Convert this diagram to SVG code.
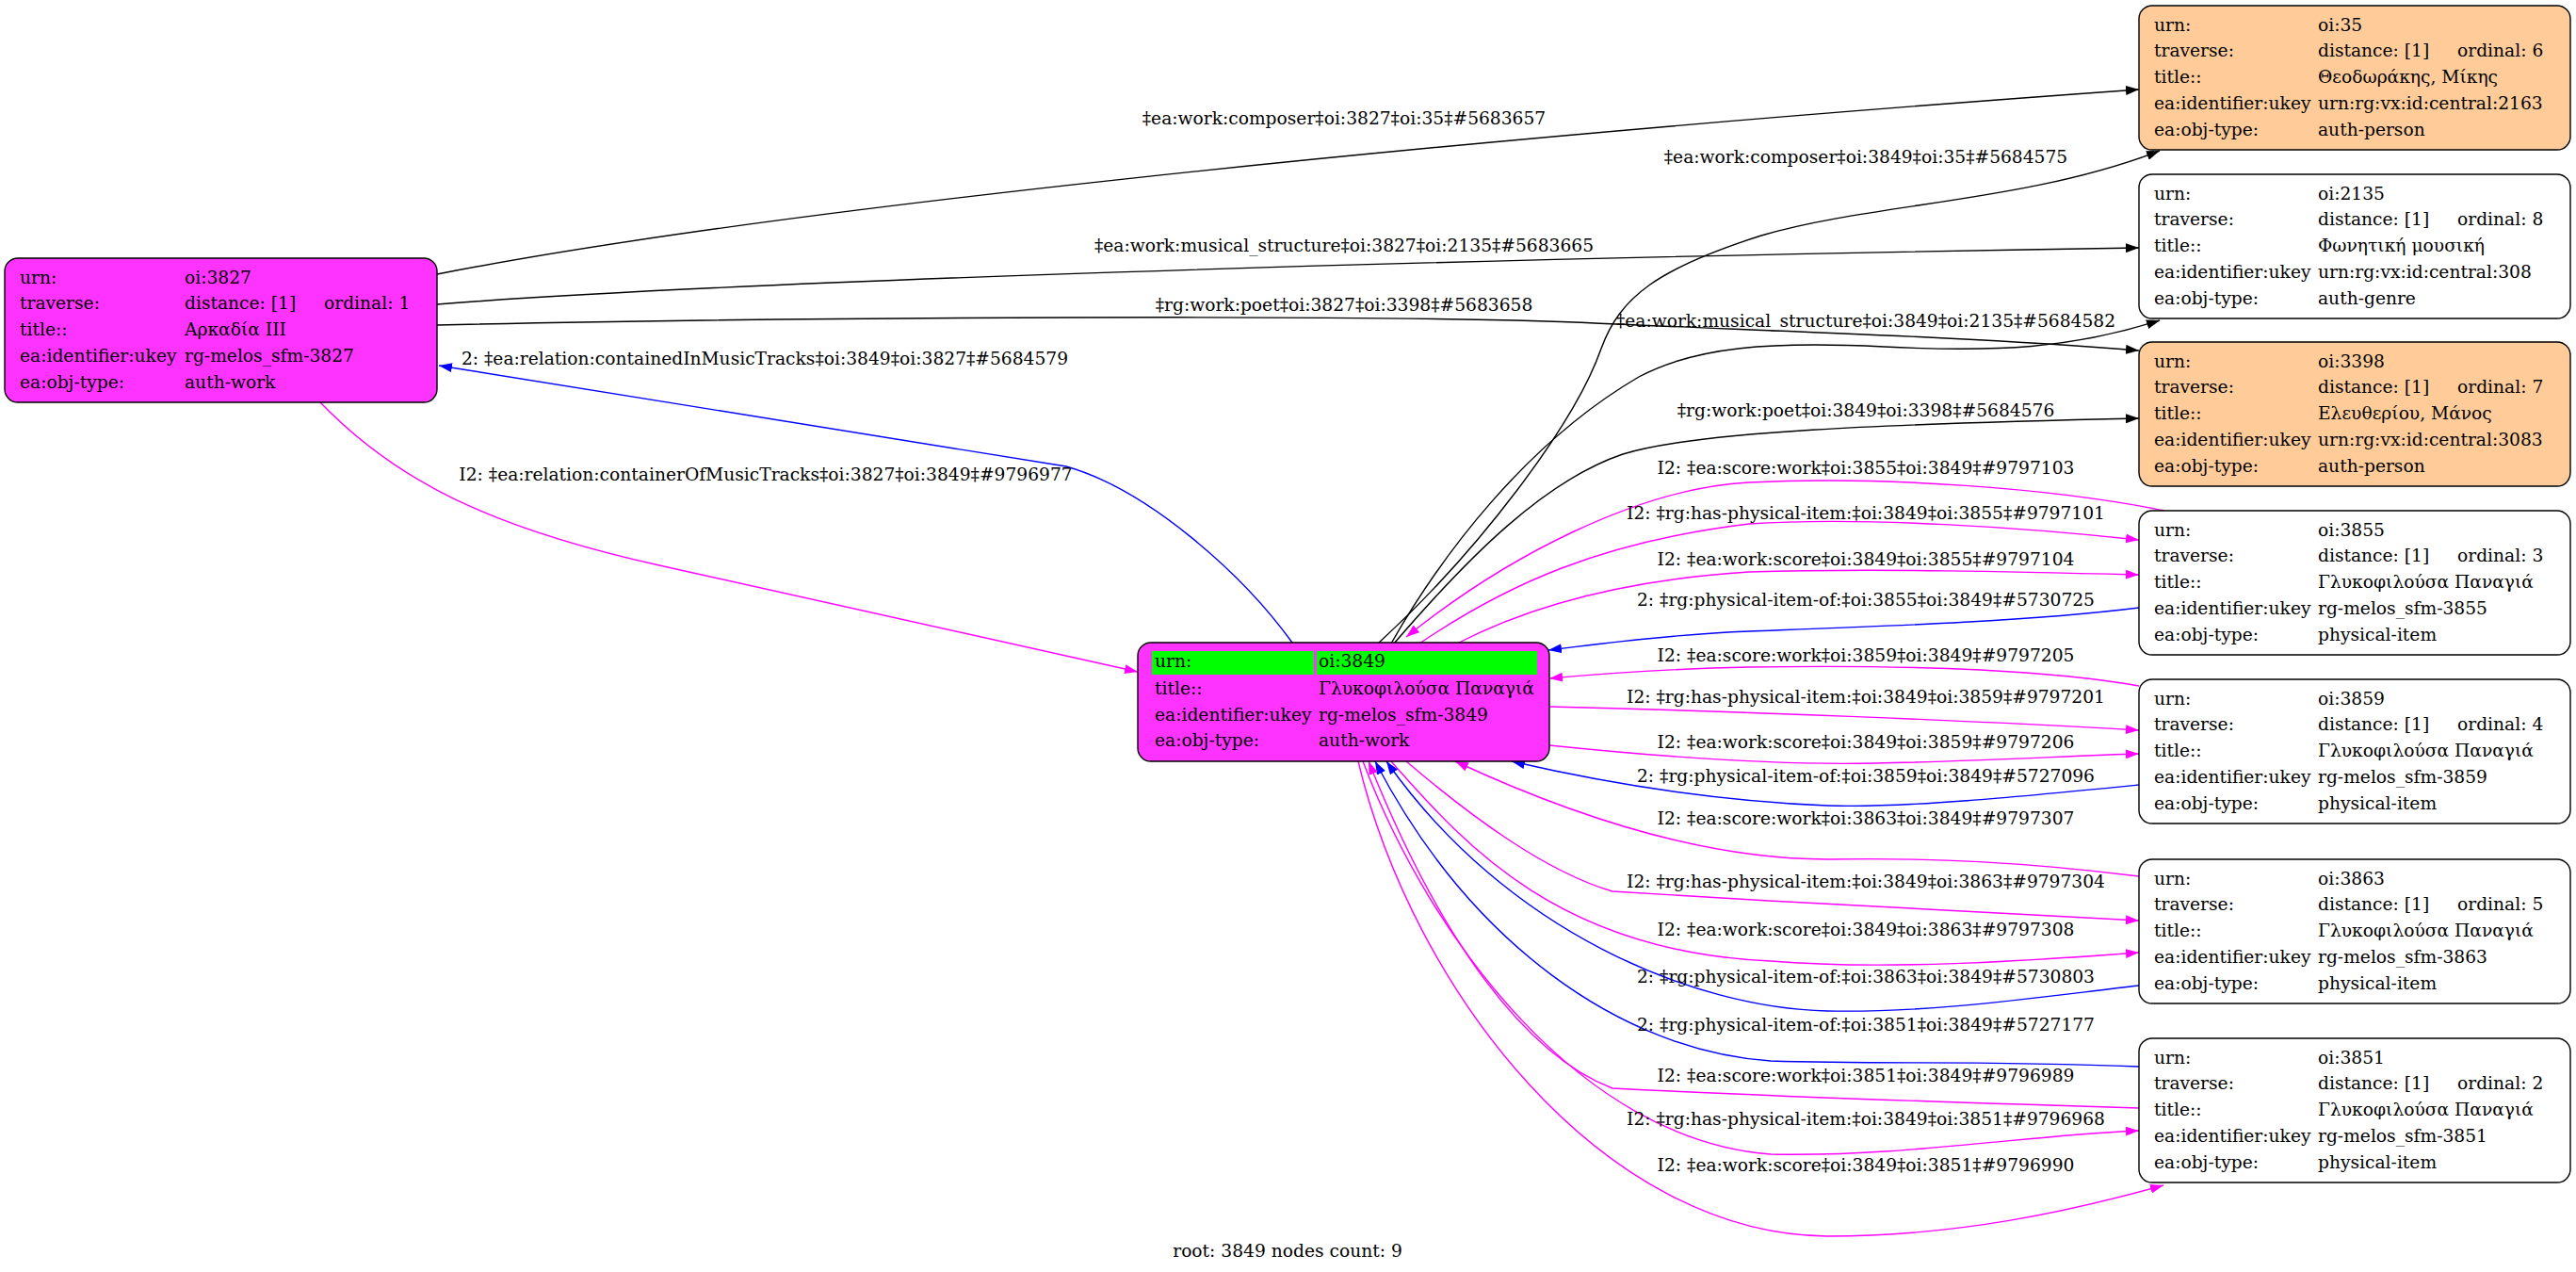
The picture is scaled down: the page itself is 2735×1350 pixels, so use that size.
<svg xmlns="http://www.w3.org/2000/svg" width="2735" height="1350" viewBox="0 0 2735 1350">
<style>
text{font-family:"DejaVu Serif","Liberation Serif",serif;font-size:18.67px;fill:#000}
.lbl{text-anchor:middle}
.box{stroke:#000;stroke-width:1.4}
.w{fill:#fff}
.m{fill:#ff33ff}
.o{fill:#ffcc99}
.g{fill:#00ff00}
.e{fill:none;stroke-width:1.4}
.k{stroke:#000;marker-end:url(#ak)}
.b{stroke:#0000ff;marker-end:url(#ab)}
.p{stroke:#ff00ff;marker-end:url(#ap)}
</style>
<defs>
<marker id="ak" viewBox="0 0 14 10" refX="14" refY="5" markerWidth="14" markerHeight="10" markerUnits="userSpaceOnUse" orient="auto"><path d="M0,0L14,5L0,10z" fill="#000"/></marker>
<marker id="ab" viewBox="0 0 14 10" refX="14" refY="5" markerWidth="14" markerHeight="10" markerUnits="userSpaceOnUse" orient="auto"><path d="M0,0L14,5L0,10z" fill="#0000ff"/></marker>
<marker id="ap" viewBox="0 0 14 10" refX="14" refY="5" markerWidth="14" markerHeight="10" markerUnits="userSpaceOnUse" orient="auto"><path d="M0,0L14,5L0,10z" fill="#ff00ff"/></marker>
</defs>
<rect width="2735" height="1350" fill="#fff"/>
<g id="edges">
<path class="e k" d="M464,291 C800,225 1500,150 2271,95"/>
<text class="lbl" x="1427" y="132">‡ea:work:composer‡oi:3827‡oi:35‡#5683657</text>
<path class="e k" d="M464,323 C750,300 1500,275 2271,263"/>
<text class="lbl" x="1427" y="267">‡ea:work:musical_structure‡oi:3827‡oi:2135‡#5683665</text>
<path class="e k" d="M464,345 C800,337 1500,332 1716,344 C1900,352 2100,358 2271,372"/>
<text class="lbl" x="1427" y="330">‡rg:work:poet‡oi:3827‡oi:3398‡#5683658</text>
<path class="e k" d="M1463,683 C1570,585 1672,450 1700,370 C1720,315 1760,285 1870,250 C1990,215 2150,215 2293,160"/>
<text class="lbl" x="1981" y="173">‡ea:work:composer‡oi:3849‡oi:35‡#5684575</text>
<path class="e k" d="M1477,683 C1530,590 1620,470 1740,400 C1800,368 1880,362 2000,368 C2120,374 2200,370 2293,340"/>
<text class="lbl" x="1981" y="347">‡ea:work:musical_structure‡oi:3849‡oi:2135‡#5684582</text>
<path class="e k" d="M1480,683 C1560,590 1640,510 1723,482 C1800,458 2000,450 2271,444"/>
<text class="lbl" x="1981" y="442">‡rg:work:poet‡oi:3849‡oi:3398‡#5684576</text>
<path class="e p" d="M2298,542 C2180,518 2000,505 1857,512 C1740,518 1600,590 1493,676"/>
<text class="lbl" x="1981" y="503">I2: ‡ea:score:work‡oi:3855‡oi:3849‡#9797103</text>
<path class="e p" d="M1507,683 C1600,620 1700,575 1857,556 C1980,548 2150,560 2271,573"/>
<text class="lbl" x="1981" y="551">I2: ‡rg:has-physical-item:‡oi:3849‡oi:3855‡#9797101</text>
<path class="e p" d="M1547,683 C1630,640 1730,615 1857,607 C1990,603 2150,607 2271,610"/>
<text class="lbl" x="1981" y="600">I2: ‡ea:work:score‡oi:3849‡oi:3855‡#9797104</text>
<path class="e b" d="M2271,645 C2150,660 1990,665 1857,670 C1780,673 1700,683 1644,690"/>
<text class="lbl" x="1981" y="643">2: ‡rg:physical-item-of:‡oi:3855‡oi:3849‡#5730725</text>
<path class="e p" d="M2271,728 C2180,712 2050,705 1857,708 C1760,710 1700,715 1645,720"/>
<text class="lbl" x="1981" y="702">I2: ‡ea:score:work‡oi:3859‡oi:3849‡#9797205</text>
<path class="e p" d="M1645,750 C1850,755 2100,765 2271,775"/>
<text class="lbl" x="1981" y="746">I2: ‡rg:has-physical-item:‡oi:3849‡oi:3859‡#9797201</text>
<path class="e p" d="M1645,791 C1780,805 1900,812 1990,810 C2100,808 2200,802 2271,800"/>
<text class="lbl" x="1981" y="794">I2: ‡ea:work:score‡oi:3849‡oi:3859‡#9797206</text>
<path class="e b" d="M2271,833 C2150,845 2020,858 1940,855 C1820,850 1700,830 1605,808"/>
<text class="lbl" x="1981" y="830">2: ‡rg:physical-item-of:‡oi:3859‡oi:3849‡#5727096</text>
<path class="e p" d="M2271,930 C2150,915 2050,910 1940,912 C1830,912 1700,880 1545,808"/>
<text class="lbl" x="1981" y="875">I2: ‡ea:score:work‡oi:3863‡oi:3849‡#9797307</text>
<path class="e p" d="M1493,808 C1560,865 1640,925 1712,946 C1900,958 2100,968 2271,977"/>
<text class="lbl" x="1981" y="942">I2: ‡rg:has-physical-item:‡oi:3849‡oi:3863‡#9797304</text>
<path class="e p" d="M1477,808 C1550,890 1650,1010 1880,1020 C2000,1030 2150,1020 2271,1011"/>
<text class="lbl" x="1981" y="993">I2: ‡ea:work:score‡oi:3849‡oi:3863‡#9797308</text>
<path class="e b" d="M2271,1046 C2150,1060 2050,1075 1940,1073 C1800,1070 1600,990 1472,808"/>
<text class="lbl" x="1981" y="1043">2: ‡rg:physical-item-of:‡oi:3863‡oi:3849‡#5730803</text>
<path class="e b" d="M2271,1132 C2100,1125 2000,1130 1880,1126 C1720,1115 1560,1000 1460,808"/>
<text class="lbl" x="1981" y="1094">2: ‡rg:physical-item-of:‡oi:3851‡oi:3849‡#5727177</text>
<path class="e p" d="M2271,1176 C2000,1168 1850,1162 1712,1155 C1620,1120 1530,1000 1453,808"/>
<text class="lbl" x="1981" y="1148">I2: ‡ea:score:work‡oi:3851‡oi:3849‡#9796989</text>
<path class="e p" d="M1447,808 C1520,1000 1680,1210 1880,1225 C2020,1228 2150,1205 2271,1200"/>
<text class="lbl" x="1981" y="1194">I2: ‡rg:has-physical-item:‡oi:3849‡oi:3851‡#9796968</text>
<path class="e p" d="M1442,808 C1500,1050 1700,1310 1940,1312 C2080,1312 2200,1285 2297,1258"/>
<text class="lbl" x="1981" y="1243">I2: ‡ea:work:score‡oi:3849‡oi:3851‡#9796990</text>
<path class="e b" d="M1372,682 C1320,610 1220,520 1132,495 L466,388"/>
<text class="lbl" x="812" y="387">2: ‡ea:relation:containedInMusicTracks‡oi:3849‡oi:3827‡#5684579</text>
<path class="e p" d="M340,427 C420,510 520,560 700,600 C900,645 1100,690 1208,713"/>
<text class="lbl" x="813" y="510">I2: ‡ea:relation:containerOfMusicTracks‡oi:3827‡oi:3849‡#9796977</text>
</g>
<g id="n3827" transform="translate(5,274)">
<rect class="box m" x="0" y="0" width="459" height="153" rx="14"/>
<text x="16" y="26.5">urn:</text><text x="191" y="26.5">oi:3827</text>
<text x="16" y="54.4">traverse:</text><text x="191" y="54.4">distance: [1]</text><text x="339" y="54.4">ordinal: 1</text>
<text x="16" y="82.3">title::</text><text x="191" y="82.3">Αρκαδία ΙΙΙ</text>
<text x="16" y="110.2">ea:identifier:ukey</text><text x="191" y="110.2">rg-melos_sfm-3827</text>
<text x="16" y="138.1">ea:obj-type:</text><text x="191" y="138.1">auth-work</text>
</g>
<g id="n3849" transform="translate(1208,682)">
<rect class="box m" x="0" y="0" width="437" height="126" rx="14"/>
<rect class="g" x="15" y="9" width="172" height="25"/>
<rect class="g" x="190" y="9" width="234" height="25"/>
<text x="18" y="26">urn:</text><text x="192" y="26">oi:3849</text>
<text x="18" y="55">title::</text><text x="192" y="55">Γλυκοφιλούσα Παναγιά</text>
<text x="18" y="83">ea:identifier:ukey</text><text x="192" y="83">rg-melos_sfm-3849</text>
<text x="18" y="110">ea:obj-type:</text><text x="192" y="110">auth-work</text>
</g>
<g id="n35" transform="translate(2271,6)">
<rect class="box o" x="0" y="0" width="458" height="153" rx="14"/>
<text x="16" y="26.5">urn:</text><text x="190" y="26.5">oi:35</text>
<text x="16" y="54.4">traverse:</text><text x="190" y="54.4">distance: [1]</text><text x="338" y="54.4">ordinal: 6</text>
<text x="16" y="82.3">title::</text><text x="190" y="82.3">Θεοδωράκης, Μίκης</text>
<text x="16" y="110.2">ea:identifier:ukey</text><text x="190" y="110.2">urn:rg:vx:id:central:2163</text>
<text x="16" y="138.1">ea:obj-type:</text><text x="190" y="138.1">auth-person</text>
</g>
<g id="n2135" transform="translate(2271,185)">
<rect class="box w" x="0" y="0" width="458" height="153" rx="14"/>
<text x="16" y="26.5">urn:</text><text x="190" y="26.5">oi:2135</text>
<text x="16" y="54.4">traverse:</text><text x="190" y="54.4">distance: [1]</text><text x="338" y="54.4">ordinal: 8</text>
<text x="16" y="82.3">title::</text><text x="190" y="82.3">Φωνητική μουσική</text>
<text x="16" y="110.2">ea:identifier:ukey</text><text x="190" y="110.2">urn:rg:vx:id:central:308</text>
<text x="16" y="138.1">ea:obj-type:</text><text x="190" y="138.1">auth-genre</text>
</g>
<g id="n3398" transform="translate(2271,363)">
<rect class="box o" x="0" y="0" width="458" height="153" rx="14"/>
<text x="16" y="26.5">urn:</text><text x="190" y="26.5">oi:3398</text>
<text x="16" y="54.4">traverse:</text><text x="190" y="54.4">distance: [1]</text><text x="338" y="54.4">ordinal: 7</text>
<text x="16" y="82.3">title::</text><text x="190" y="82.3">Ελευθερίου, Μάνος</text>
<text x="16" y="110.2">ea:identifier:ukey</text><text x="190" y="110.2">urn:rg:vx:id:central:3083</text>
<text x="16" y="138.1">ea:obj-type:</text><text x="190" y="138.1">auth-person</text>
</g>
<g id="n3855" transform="translate(2271,542)">
<rect class="box w" x="0" y="0" width="458" height="153" rx="14"/>
<text x="16" y="26.5">urn:</text><text x="190" y="26.5">oi:3855</text>
<text x="16" y="54.4">traverse:</text><text x="190" y="54.4">distance: [1]</text><text x="338" y="54.4">ordinal: 3</text>
<text x="16" y="82.3">title::</text><text x="190" y="82.3">Γλυκοφιλούσα Παναγιά</text>
<text x="16" y="110.2">ea:identifier:ukey</text><text x="190" y="110.2">rg-melos_sfm-3855</text>
<text x="16" y="138.1">ea:obj-type:</text><text x="190" y="138.1">physical-item</text>
</g>
<g id="n3859" transform="translate(2271,721)">
<rect class="box w" x="0" y="0" width="458" height="153" rx="14"/>
<text x="16" y="26.5">urn:</text><text x="190" y="26.5">oi:3859</text>
<text x="16" y="54.4">traverse:</text><text x="190" y="54.4">distance: [1]</text><text x="338" y="54.4">ordinal: 4</text>
<text x="16" y="82.3">title::</text><text x="190" y="82.3">Γλυκοφιλούσα Παναγιά</text>
<text x="16" y="110.2">ea:identifier:ukey</text><text x="190" y="110.2">rg-melos_sfm-3859</text>
<text x="16" y="138.1">ea:obj-type:</text><text x="190" y="138.1">physical-item</text>
</g>
<g id="n3863" transform="translate(2271,912)">
<rect class="box w" x="0" y="0" width="458" height="153" rx="14"/>
<text x="16" y="26.5">urn:</text><text x="190" y="26.5">oi:3863</text>
<text x="16" y="54.4">traverse:</text><text x="190" y="54.4">distance: [1]</text><text x="338" y="54.4">ordinal: 5</text>
<text x="16" y="82.3">title::</text><text x="190" y="82.3">Γλυκοφιλούσα Παναγιά</text>
<text x="16" y="110.2">ea:identifier:ukey</text><text x="190" y="110.2">rg-melos_sfm-3863</text>
<text x="16" y="138.1">ea:obj-type:</text><text x="190" y="138.1">physical-item</text>
</g>
<g id="n3851" transform="translate(2271,1102)">
<rect class="box w" x="0" y="0" width="458" height="153" rx="14"/>
<text x="16" y="26.5">urn:</text><text x="190" y="26.5">oi:3851</text>
<text x="16" y="54.4">traverse:</text><text x="190" y="54.4">distance: [1]</text><text x="338" y="54.4">ordinal: 2</text>
<text x="16" y="82.3">title::</text><text x="190" y="82.3">Γλυκοφιλούσα Παναγιά</text>
<text x="16" y="110.2">ea:identifier:ukey</text><text x="190" y="110.2">rg-melos_sfm-3851</text>
<text x="16" y="138.1">ea:obj-type:</text><text x="190" y="138.1">physical-item</text>
</g>
<text class="lbl" x="1367" y="1334">root: 3849 nodes count: 9</text>
</svg>
